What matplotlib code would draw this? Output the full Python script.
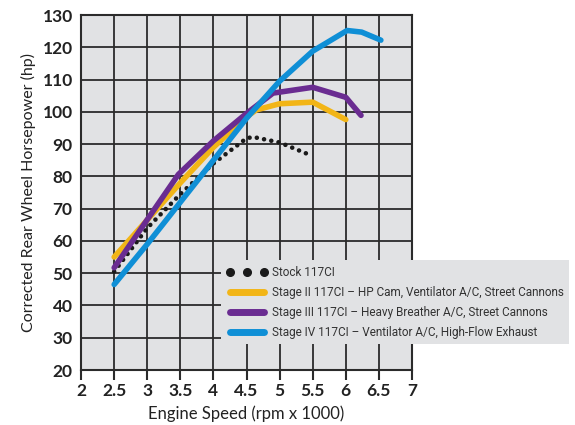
import matplotlib
matplotlib.use("Agg")
import matplotlib.pyplot as plt
from matplotlib.lines import Line2D

# data
stock_rpm = [2.5, 3.0, 3.5, 4.0, 4.5, 4.6, 5.0, 5.45]
stock_hp = [50.5, 64, 74.5, 84, 91.8, 92.2, 90.5, 86.7]

stage2_rpm = [2.5, 3.0, 3.5, 4.0, 4.5, 4.65, 5.0, 5.5, 6.0]
stage2_hp = [55, 66.5, 78, 89, 98.5, 100.6, 102.5, 103, 97.6]

stage3_rpm = [2.5, 3.0, 3.47, 4.0, 4.5, 4.9, 5.5, 6.0, 6.23]
stage3_hp = [51.7, 66.6, 80.6, 91, 99.5, 105.8, 107.6, 104.5, 98.9]

stage4_rpm = [2.5, 3.0, 3.5, 4.0, 4.5, 5.0, 5.5, 6.02, 6.24, 6.53]
stage4_hp = [46.5, 59, 72, 85, 98, 109.5, 118.8, 125.2, 124.7, 122.2]

labels = ["Stock 117CI",
          "Stage II 117CI \u2013 HP Cam, Ventilator A/C, Street Cannons",
          "Stage III 117CI \u2013 Heavy Breather A/C, Street Cannons",
          "Stage IV 117CI \u2013 Ventilator A/C, High-Flow Exhaust"]

xticks = [2, 2.5, 3, 3.5, 4, 4.5, 5, 5.5, 6, 6.5, 7]
yticks = list(range(20, 131, 10))

colors = {"stock": "#1a1a1a", "s2": "#f2b517", "s3": "#6a2c91", "s4": "#0f8fd6"}
grid_bg = "#e1e2e4"

plt.rcParams["font.family"] = ["Lato", "DejaVu Sans"]

fig = plt.figure(figsize=(5.75, 4.25), dpi=100)
ax = fig.add_axes([0.141, 0.1294, 0.5755, 0.8353])
ax.set_facecolor(grid_bg)

lw = 4.0
ax.plot(stock_rpm, stock_hp, color=colors["stock"], lw=3.3,
        linestyle=(0, (0.01, 1.6)), dash_capstyle="round", zorder=3)
ax.plot(stage2_rpm, stage2_hp, color=colors["s2"], lw=lw, solid_capstyle="round",
        solid_joinstyle="round", zorder=4)
ax.plot(stage3_rpm, stage3_hp, color=colors["s3"], lw=lw, solid_capstyle="round",
        solid_joinstyle="round", zorder=5)
ax.plot(stage4_rpm, stage4_hp, color=colors["s4"], lw=lw, solid_capstyle="round",
        solid_joinstyle="round", zorder=6)

ax.set_xlim(2, 7)
ax.set_ylim(20, 130)
ax.set_xticks(xticks)
ax.set_xticklabels([f"{t:g}" for t in xticks])
ax.set_yticks(yticks)

ax.grid(True, color="#2b2b2b", lw=1.3)
ax.set_axisbelow(True)
for s in ax.spines.values():
    s.set_color("#2b2b2b")
    s.set_linewidth(1.5)

ax.tick_params(axis="x", direction="out", length=7, width=1.5, color="#2b2b2b",
               pad=2, labelsize=12.5)
ax.tick_params(axis="y", length=0, pad=6, labelsize=12.5)
for lab in ax.get_xticklabels() + ax.get_yticklabels():
    lab.set_fontweight("bold")
    lab.set_color("#222222")

ax.set_xlabel("Engine Speed (rpm x 1000)", fontsize=12, color="#222222", labelpad=5)
ax.set_ylabel("Corrected Rear Wheel Horsepower (hp)", fontsize=11.5, color="#222222",
              labelpad=5)

handles = [
    Line2D([], [], ls="none", marker="o", ms=5.5, color=colors["stock"]),
    Line2D([], [], color=colors["s2"], lw=5, solid_capstyle="round"),
    Line2D([], [], color=colors["s3"], lw=5, solid_capstyle="round"),
    Line2D([], [], color=colors["s4"], lw=5, solid_capstyle="round"),
]
leg = fig.legend(handles, labels, loc="lower left", bbox_to_anchor=(0.374, 0.176),
                 numpoints=3, handlelength=3.5, handletextpad=0.4, labelspacing=0.6,
                 borderpad=0.45, frameon=True, fancybox=False,
                 prop={"family": ["Roboto", "DejaVu Sans"], "size": 8.5})
frame = leg.get_frame()
frame.set_facecolor(grid_bg)
frame.set_edgecolor("none")
frame.set_alpha(1)
for t in leg.get_texts():
    t.set_color("#333333")

fig.savefig("out.png", dpi=100)
